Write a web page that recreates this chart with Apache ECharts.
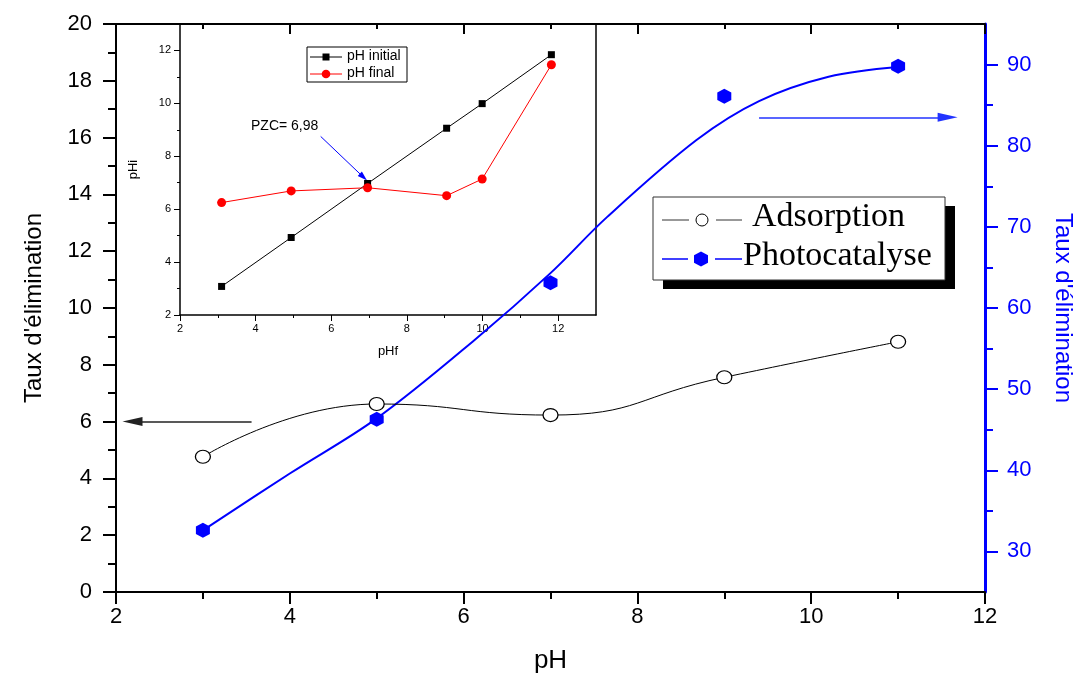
<!DOCTYPE html>
<html><head><meta charset="utf-8">
<script src="https://cdn.jsdelivr.net/npm/echarts@6/dist/echarts.min.js"></script>
<style>html,body{margin:0;padding:0;background:#fff}#c{width:1083px;height:680px}</style>
</head><body><div id="c"></div>
<script>
// ---- data ----
const phValues = [3, 5, 7, 9, 11];
const adsorption = [4.76, 6.62, 6.23, 7.56, 8.81];
const photocatalyse = [32.6, 46.3, 63.1, 86.1, 89.8];
const fitPh = [3, 4, 5, 6.13, 7, 7.65, 8.68, 9.4, 10.2, 11];
const fitPhotocatalyse = [32.6, 39.6, 46.4, 56.1, 64.3, 71.2, 80.7, 85.5, 88.5, 89.7];
const insetPhf = [3.10, 4.94, 6.96, 9.05, 9.99, 11.82];
const phInitial = [3.08, 4.93, 6.97, 9.06, 9.99, 11.84];
const phFinal = [6.25, 6.69, 6.81, 6.51, 7.14, 11.46];
const rightMajor = [30, 40, 50, 60, 70, 80, 90];
const rightMinor = [35, 45, 55, 65, 75, 85];
const insetMajor = [2, 4, 6, 8, 10, 12];
const insetMinor = [3, 5, 7, 9, 11];
const seriesNames = ['Adsorption', 'Photocatalyse'];
const insetNames = ['pH initial', 'pH final'];
const pzcText = 'PZC= 6,98';

const SANS = 'Liberation Sans, Arial, sans-serif';
const SERIF = 'Liberation Serif, Times New Roman, serif';
const BLUE = '#0000ff';
const HEX = 'path://M0,-10L8.66,-5L8.66,5L0,10L-8.66,5L-8.66,-5Z';

const zip = (a, b) => a.map((v, i) => [v, b[i]]);

const chart = echarts.init(document.getElementById('c'), null, {renderer: 'canvas'});
const option = {
  animation: false,
  backgroundColor: '#fff',
  grid: [
    {left: 116, right: 91, top: 24, bottom: 88},
    {left: 180, right: 487, top: 24, bottom: 365}
  ],
  xAxis: [
    { gridIndex: 0, type: 'value', position: 'bottom', min: 2, max: 12, interval: 2,
      name: 'pH', nameLocation: 'middle', nameGap: 56,
      nameTextStyle: {fontFamily: SANS, fontSize: 26, color: '#000'},
      axisLine: {show: true, onZero: false, lineStyle: {color: '#000', width: 2}},
      axisTick: {show: true, length: 12, lineStyle: {color: '#000', width: 2}},
      minorTick: {show: true, splitNumber: 2, length: 7, lineStyle: {color: '#000', width: 2}},
      axisLabel: {fontFamily: SANS, fontSize: 22, color: '#000', margin: 14},
      splitLine: {show: false}
    },
    { gridIndex: 0, type: 'value', position: 'top', min: 2, max: 12, interval: 2,
      axisLine: {show: true, onZero: false, lineStyle: {color: '#000', width: 2}},
      axisTick: {show: true, inside: true, length: 10, lineStyle: {color: '#000', width: 2}},
      minorTick: {show: true, splitNumber: 2, length: 5, lineStyle: {color: '#000', width: 2}},
      axisLabel: {show: false}, splitLine: {show: false}
    },
    { gridIndex: 1, type: 'value', position: 'bottom', min: 2, max: 13,
      name: 'pHf', nameLocation: 'middle', nameGap: 30,
      nameTextStyle: {fontFamily: SANS, fontSize: 13, color: '#000'},
      axisLine: {show: true, onZero: false, lineStyle: {color: '#000', width: 1.5}},
      axisTick: {show: true, length: 6, customValues: insetMajor, lineStyle: {color: '#000', width: 1}},
      axisLabel: {fontFamily: SANS, fontSize: 11, color: '#000', margin: 8, customValues: insetMajor},
      splitLine: {show: false}
    },
    { gridIndex: 1, type: 'value', position: 'bottom', min: 2, max: 13,
      axisLine: {show: false},
      axisTick: {show: true, length: 3, customValues: insetMinor, lineStyle: {color: '#000', width: 1}},
      axisLabel: {show: false}, splitLine: {show: false}
    }
  ],
  yAxis: [
    { gridIndex: 0, type: 'value', position: 'left', min: 0, max: 20, interval: 2,
      name: "Taux d'élimination", nameLocation: 'middle', nameGap: 70,
      nameTextStyle: {fontFamily: SANS, fontSize: 24, color: '#000'},
      axisLine: {show: true, onZero: false, lineStyle: {color: '#000', width: 2}},
      axisTick: {show: true, length: 13, lineStyle: {color: '#000', width: 2}},
      minorTick: {show: true, splitNumber: 2, length: 8, lineStyle: {color: '#000', width: 2}},
      axisLabel: {fontFamily: SANS, fontSize: 22, color: '#000', margin: 24},
      splitLine: {show: false}
    },
    { gridIndex: 0, type: 'value', position: 'right', min: 25, max: 95,
      name: "Taux d'élimination", nameLocation: 'middle', nameGap: 66, nameRotate: -90,
      nameTextStyle: {fontFamily: SANS, fontSize: 24, color: BLUE},
      axisLine: {show: true, onZero: false, lineStyle: {color: BLUE, width: 3}},
      axisTick: {show: true, length: 13, customValues: rightMajor, lineStyle: {color: BLUE, width: 2}},
      axisLabel: {fontFamily: SANS, fontSize: 22, color: BLUE, margin: 22, customValues: rightMajor},
      splitLine: {show: false}
    },
    { gridIndex: 0, type: 'value', position: 'right', min: 25, max: 95,
      axisLine: {show: false},
      axisTick: {show: true, length: 8, customValues: rightMinor, lineStyle: {color: BLUE, width: 2}},
      axisLabel: {show: false}, splitLine: {show: false}
    },
    { gridIndex: 1, type: 'value', position: 'left', min: 2, max: 13,
      name: 'pHi', nameLocation: 'middle', nameGap: 40,
      nameTextStyle: {fontFamily: SANS, fontSize: 13, color: '#000'},
      axisLine: {show: true, onZero: false, lineStyle: {color: '#000', width: 1.5}},
      axisTick: {show: true, length: 6, customValues: insetMajor, lineStyle: {color: '#000', width: 1}},
      axisLabel: {fontFamily: SANS, fontSize: 11, color: '#000', margin: 9, customValues: insetMajor},
      splitLine: {show: false}
    },
    { gridIndex: 1, type: 'value', position: 'left', min: 2, max: 13,
      axisLine: {show: false},
      axisTick: {show: true, length: 3, customValues: insetMinor, lineStyle: {color: '#000', width: 1}},
      axisLabel: {show: false}, splitLine: {show: false}
    },
    { gridIndex: 1, type: 'value', position: 'right', min: 2, max: 13,
      axisLine: {show: true, onZero: false, lineStyle: {color: '#000', width: 1.5}},
      axisTick: {show: false}, axisLabel: {show: false}, splitLine: {show: false}
    }
  ],
  series: [
    { name: seriesNames[0], type: 'line', xAxisIndex: 0, yAxisIndex: 0, smooth: 0.5,
      data: zip(phValues, adsorption),
      symbol: 'circle', symbolSize: [15, 13],
      lineStyle: {color: '#000', width: 1},
      itemStyle: {color: '#fff', borderColor: '#000', borderWidth: 1.2, opacity: 1},
      z: 5,
      markLine: {
        silent: true, symbol: ['none', 'triangle'], symbolSize: [9, 20],
        label: {show: false},
        lineStyle: {color: '#222', width: 1.5, type: 'solid', opacity: 1},
        data: [[{coord: [3.56, 6]}, {coord: [2.19, 6]}]]
      }
    },
    { name: seriesNames[1] + ' (courbe)', type: 'line', xAxisIndex: 0, yAxisIndex: 1, smooth: 0.35,
      data: zip(fitPh, fitPhotocatalyse), showSymbol: false, symbol: 'none',
      lineStyle: {color: BLUE, width: 2}, z: 4,
      markLine: {
        silent: true, symbol: ['none', 'triangle'], symbolSize: [9, 20],
        label: {show: false},
        lineStyle: {color: '#2233ff', width: 1.5, type: 'solid', opacity: 1},
        data: [[{coord: [9.40, 83.5]}, {coord: [11.57, 83.5]}]]
      }
    },
    { name: seriesNames[1], type: 'scatter', xAxisIndex: 0, yAxisIndex: 1,
      data: zip(phValues, photocatalyse), symbol: HEX, symbolSize: [14, 15],
      itemStyle: {color: BLUE, opacity: 1}, z: 6
    },
    { name: insetNames[0], type: 'line', xAxisIndex: 2, yAxisIndex: 3,
      data: zip(insetPhf, phInitial), symbol: 'rect', symbolSize: 7,
      lineStyle: {color: '#000', width: 1}, itemStyle: {color: '#000', opacity: 1}, z: 5,
      markLine: {
        silent: true, symbol: ['none', 'triangle'], symbolSize: [6, 10],
        label: {show: false},
        lineStyle: {color: BLUE, width: 1, type: 'solid', opacity: 1},
        data: [[{coord: [5.72, 8.75]}, {coord: [6.85, 7.21]}]]
      }
    },
    { name: insetNames[1], type: 'line', xAxisIndex: 2, yAxisIndex: 3,
      data: zip(insetPhf, phFinal), symbol: 'circle', symbolSize: 9,
      lineStyle: {color: '#ff0000', width: 1}, itemStyle: {color: '#ff0000', opacity: 1}, z: 6
    }
  ],
  graphic: [
    // inset annotation
    {type: 'text', left: 251, top: 119, z: 20,
     style: {text: pzcText, font: '14px ' + SANS, fill: '#000'}},
    // inset legend
    {type: 'rect', shape: {x: 307, y: 47, width: 100, height: 35}, z: 20,
     style: {fill: '#fff', stroke: '#000', lineWidth: 1}},
    {type: 'line', shape: {x1: 310, y1: 57, x2: 342, y2: 57}, z: 21, style: {stroke: '#000', lineWidth: 1}},
    {type: 'rect', shape: {x: 322.5, y: 53.5, width: 7, height: 7}, z: 22, style: {fill: '#000'}},
    {type: 'text', left: 347, top: 49, z: 21, style: {text: insetNames[0], font: '14px ' + SANS, fill: '#000'}},
    {type: 'line', shape: {x1: 310, y1: 74, x2: 342, y2: 74}, z: 21, style: {stroke: '#ff0000', lineWidth: 1}},
    {type: 'circle', shape: {cx: 326, cy: 74, r: 4.3}, z: 22, style: {fill: '#ff0000'}},
    {type: 'text', left: 347, top: 66, z: 21, style: {text: insetNames[1], font: '14px ' + SANS, fill: '#000'}},
    // main legend
    {type: 'rect', shape: {x: 663, y: 206, width: 292, height: 83}, z: 20, style: {fill: '#000'}},
    {type: 'rect', shape: {x: 653, y: 197, width: 292, height: 83}, z: 21,
     style: {fill: '#fff', stroke: '#333', lineWidth: 1}},
    {type: 'line', shape: {x1: 662, y1: 220, x2: 689, y2: 220}, z: 22, style: {stroke: '#333', lineWidth: 1}},
    {type: 'circle', shape: {cx: 702, cy: 220, r: 6}, z: 22, style: {fill: '#fff', stroke: '#000', lineWidth: 1}},
    {type: 'line', shape: {x1: 716, y1: 220, x2: 742, y2: 220}, z: 22, style: {stroke: '#333', lineWidth: 1}},
    {type: 'text', left: 752, top: 200, z: 22, style: {text: seriesNames[0], font: '34px ' + SERIF, fill: '#000'}},
    {type: 'line', shape: {x1: 662, y1: 259, x2: 688, y2: 259}, z: 22, style: {stroke: BLUE, lineWidth: 1.5}},
    {type: 'polygon', shape: {points: [[701, 251.5], [708, 255.3], [708, 262.7], [701, 266.5], [694, 262.7], [694, 255.3]]}, z: 22, style: {fill: BLUE}},
    {type: 'line', shape: {x1: 715, y1: 259, x2: 742, y2: 259}, z: 22, style: {stroke: BLUE, lineWidth: 1.5}},
    {type: 'text', left: 743, top: 239, z: 22, style: {text: seriesNames[1], font: '34px ' + SERIF, fill: '#000'}}
  ]
};
chart.setOption(option);
</script>
</body></html>
